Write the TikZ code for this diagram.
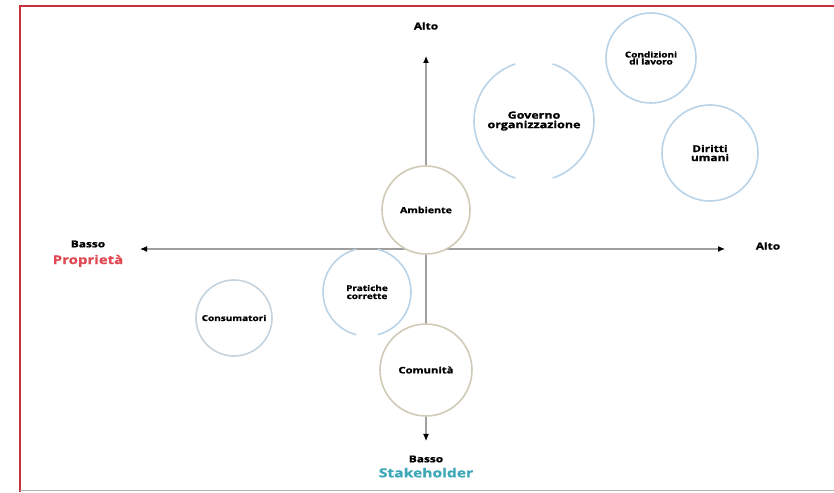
\documentclass[tikz,border=0pt]{standalone}
\usepackage{fontspec}
\setmainfont{Open Sans}[FakeStretch=1.25, BoldFeatures={FakeBold=1.2}]
\usepackage{xcolor}
\usetikzlibrary{arrows.meta,positioning}
\definecolor{beige}{HTML}{CFCBB8}
\definecolor{paleblue}{HTML}{B9D4E9}
\definecolor{greyblue}{HTML}{C4D3DD}
\definecolor{propred}{HTML}{E04A55}
\definecolor{stakecyan}{HTML}{3EA8B8}
\definecolor{framered}{HTML}{C8303C}
\tikzset{%
  >={Latex[width=6pt,length=7pt,color=black]},
  % Specifications for style of nodes:
          base/.style = {circle, fill=white, line width=1.6pt, align=center,
                         inner sep=0pt, outer sep=0pt, font=\bfseries},
   beigeCircle/.style = {base, draw=beige},
    blueCircle/.style = {base, draw=greyblue},
    openCircle/.style = {base, fill=none},
      openLine/.style = {draw=paleblue, line width=1.6pt},
          axis/.style = {draw=gray!75, line width=1.1pt},
     axisLabel/.style = {font=\bfseries\fontsize{9.5}{10}\selectfont, inner sep=0pt},
}

\begin{document}
\begin{tikzpicture}[x=1pt, y=1pt]
  \useasboundingbox (0,0) rectangle (834,492);
  % frame
  \draw[framered, line width=2pt] (19.5,0) -- (19.5,486) -- (834,486);
  \draw[gray!60, line width=1pt] (19.5,2) -- (834,2);
  % Specification of axes
  \coordinate (origin) at (426,243);
  \coordinate (up)     at (426,436);
  \coordinate (down)   at (426,51);
  \coordinate (left)   at (140,243);
  \coordinate (right)  at (725,243);
  \draw[axis,->] (origin) -- (up);
  \draw[axis,->] (origin) -- (down);
  \draw[axis,->] (origin) -- (left);
  \draw[axis,->] (origin) -- (right);
  % axis labels
  \node (altoV)  [axisLabel] at (426,466) {Alto};
  \node (altoH)  [axisLabel] at (768,246) {Alto};
  \node (bassoH) [axisLabel] at (88,248)  {Basso};
  \node (prop)   [below=7pt of bassoH, font=\bfseries\fontsize{12}{12}\selectfont,
                  text=propred, inner sep=0pt] {Propriet\`a};
  \node (bassoV) [axisLabel] at (426,33)  {Basso};
  \node (stake)  [below=5pt of bassoV, font=\bfseries\fontsize{12.5}{12}\selectfont,
                  text=stakecyan, inner sep=0pt] {Stakeholder};
  % Specification of nodes (position, etc.)
  \node (ambiente) [beigeCircle, minimum size=88pt, font=\bfseries\fontsize{8.5}{9}\selectfont]
        at (426,282) {Ambiente};
  \node (comunita) [beigeCircle, minimum size=92pt, font=\bfseries\fontsize{9}{9}\selectfont]
        at (426,122) {Comunit\`a};
  \node (consum)   [blueCircle, minimum size=76pt, font=\bfseries\fontsize{8}{8}\selectfont]
        at (234,174) {Consumatori};
  \node (condiz)   [blueCircle, draw=paleblue, minimum size=90pt,
                    font=\bfseries\fontsize{8}{7}\selectfont]
        at (651,434) {Condizioni\\di lavoro};
  \node (diritti)  [blueCircle, draw=paleblue, minimum size=96pt,
                    font=\bfseries\fontsize{9.5}{9}\selectfont]
        at (710,339) {Diritti\\umani};
  \node (pratiche) [openCircle, minimum size=88pt, font=\bfseries\fontsize{8}{8}\selectfont]
        at (367,200) {Pratiche\\corrette};
  \node (governo)  [openCircle, minimum size=120pt, font=\bfseries\fontsize{10}{9.5}\selectfont]
        at (534,371) {Governo\\organizzazione};
  % open circles with gaps
  \draw[openLine] (pratiche.104) arc[start angle=104, end angle=256, radius=44pt];
  \draw[openLine] (pratiche.-76) arc[start angle=-76, end angle=76, radius=44pt];
  \draw[openLine] (governo.108) arc[start angle=108, end angle=252, radius=60pt];
  \draw[openLine] (governo.-72) arc[start angle=-72, end angle=72, radius=60pt];
\end{tikzpicture}
\end{document}
